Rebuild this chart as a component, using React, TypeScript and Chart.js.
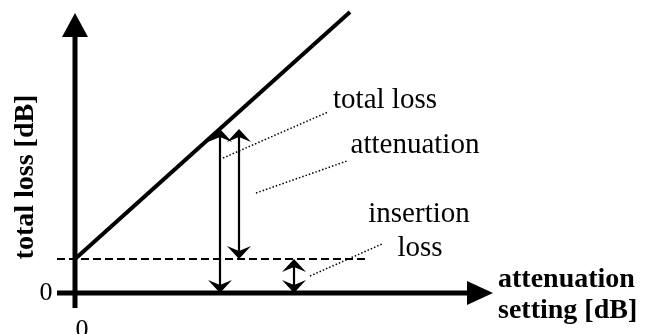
import React, { useEffect, useRef } from "react";
import { Chart, registerables } from "chart.js";
Chart.register(...registerables);

// Data units: attenuation setting (x) and total loss (y), both in dB (schematic)
const X_RANGE = [-7.5, 58.5];
const Y_RANGE = [-4.1, 29.3];

const insertionLoss = 3.4;
const totalLossLine = [
  { x: 0, y: 3.4 },
  { x: 27.5, y: 28.1 },
];
const insertionLossLine = [
  { x: -1.8, y: 3.4 },
  { x: 29.2, y: 3.4 },
];
const xAxisLine = [
  { x: -1.8, y: 0 },
  { x: 39.2, y: 0 },
];
const yAxisLine = [
  { x: 0, y: -1.5 },
  { x: 0, y: 25.6 },
];
const xAxisTip = { x: 41.8, y: 0 };
const yAxisTip = { x: 0, y: 28.0 };

// double arrows: x position, bottom value, top value
const arrowTotalLoss = { x: 14.5, from: 0, to: 16.4 };
const arrowAttenuation = { x: 16.4, from: insertionLoss, to: 16.4 };
const arrowInsertion = { x: 21.9, from: 0, to: insertionLoss };

// dotted leader lines
const leaderTotalLoss = [
  { x: 14.8, y: 13.5 },
  { x: 25.3, y: 18.1 },
];
const leaderAttenuation = [
  { x: 18.1, y: 10.0 },
  { x: 27.2, y: 13.2 },
];
const leaderInsertion = [
  { x: 23.5, y: 1.7 },
  { x: 30.7, y: 4.9 },
];

// labels: text, anchor point
const labelTexts = ["total loss", "attenuation", "insertion", "loss"];
const labelPoints = [
  { x: 31.0, y: 18.5 },
  { x: 34.0, y: 14.0 },
  { x: 34.4, y: 7.1 },
  { x: 34.5, y: 3.7 },
];
const xTitleLines = ["attenuation", "setting [dB]"];
const xTitlePoints = [
  { x: 42.3, y: 0.6 },
  { x: 42.3, y: -2.5 },
];
const yTitle = "total loss [dB]";
const yTitlePoint = { x: -4.9, y: 11.6 };
const tickLabel = "0";
const yTickPoint = { x: -2.9, y: 0 };
const xTickPoint = { x: 0.7, y: -2.4 };

const SERIF = '"Liberation Serif", "Times New Roman", serif';

function lineDs(data: { x: number; y: number }[], width: number, dash: number[] = []) {
  return {
    data,
    showLine: true,
    borderColor: "#000",
    borderWidth: width,
    borderDash: dash,
    pointRadius: 0,
    pointHoverRadius: 0,
    fill: false,
    borderCapStyle: "butt",
    clip: false,
  } as any;
}

const decorPlugin = {
  id: "decor",
  afterDatasetsDraw(chart: any) {
    const ctx: CanvasRenderingContext2D = chart.ctx;
    const xs = chart.scales.x;
    const ys = chart.scales.y;
    const px = (v: number) => xs.getPixelForValue(v);
    const py = (v: number) => ys.getPixelForValue(v);
    ctx.save();
    ctx.fillStyle = "#000";

    // axis arrowheads (filled triangles)
    const yt = { x: px(yAxisTip.x), y: py(yAxisTip.y) };
    const yb = py(yAxisLine[1].y);
    ctx.beginPath();
    ctx.moveTo(yt.x, yt.y);
    ctx.lineTo(yt.x - 13, yb);
    ctx.lineTo(yt.x + 13, yb);
    ctx.closePath();
    ctx.fill();

    const xt = { x: px(xAxisTip.x), y: py(xAxisTip.y) };
    const xb = px(xAxisLine[1].x);
    ctx.beginPath();
    ctx.moveTo(xt.x, xt.y);
    ctx.lineTo(xb, xt.y - 12);
    ctx.lineTo(xb, xt.y + 12);
    ctx.closePath();
    ctx.fill();

    // barbed arrowheads for double arrows
    const head = (x: number, y: number, dir: number) => {
      // dir = -1 pointing up, +1 pointing down
      const L = 13, W = 12, N = 5;
      ctx.beginPath();
      ctx.moveTo(x, y);
      ctx.lineTo(x - W, y - dir * L);
      ctx.lineTo(x, y - dir * (L - N));
      ctx.lineTo(x + W, y - dir * L);
      ctx.closePath();
      ctx.fill();
    };
    [arrowTotalLoss, arrowAttenuation, arrowInsertion].forEach((a) => {
      const x = px(a.x);
      const top = py(a.to);
      const bot = py(a.from);
      ctx.strokeStyle = "#000";
      ctx.lineWidth = 2.2;
      ctx.beginPath();
      ctx.moveTo(x, top + 6);
      ctx.lineTo(x, bot - 6);
      ctx.stroke();
      head(x, top, -1);
      head(x, bot, 1);
    });

    // labels
    ctx.font = `29px ${SERIF}`;
    ctx.textAlign = "center";
    ctx.textBaseline = "alphabetic";
    labelTexts.forEach((t, i) => {
      ctx.fillText(t, px(labelPoints[i].x), py(labelPoints[i].y));
    });

    ctx.font = `bold 28px ${SERIF}`;
    ctx.textAlign = "left";
    xTitleLines.forEach((t, i) => {
      ctx.fillText(t, px(xTitlePoints[i].x), py(xTitlePoints[i].y));
    });

    ctx.save();
    ctx.translate(px(yTitlePoint.x), py(yTitlePoint.y));
    ctx.rotate(-Math.PI / 2);
    ctx.textAlign = "center";
    ctx.textBaseline = "middle";
    ctx.fillText(yTitle, 0, 0);
    ctx.restore();

    ctx.font = `26px ${SERIF}`;
    ctx.textAlign = "center";
    ctx.textBaseline = "middle";
    ctx.fillText(tickLabel, px(yTickPoint.x), py(yTickPoint.y));
    ctx.textBaseline = "top";
    ctx.fillText(tickLabel, px(xTickPoint.x), py(xTickPoint.y));

    ctx.restore();
  },
};

export default function App() {
  const ref = useRef<HTMLCanvasElement | null>(null);
  useEffect(() => {
    if (!ref.current) return;
    const chart = new Chart(ref.current, {
      type: "scatter",
      data: {
        datasets: [
          lineDs(yAxisLine, 5),
          lineDs(xAxisLine, 5),
          lineDs(insertionLossLine, 2, [8, 4]),
          lineDs(totalLossLine, 4),
          lineDs(leaderTotalLoss, 1.5, [1.5, 2]),
          lineDs(leaderAttenuation, 1.5, [1.5, 2]),
          lineDs(leaderInsertion, 1.5, [1.5, 2]),
        ],
      },
      options: {
        animation: false,
        responsive: false,
        devicePixelRatio: 1,
        layout: { padding: 0 },
        plugins: { legend: { display: false }, tooltip: { enabled: false } },
        events: [],
        scales: {
          x: { type: "linear", display: false, min: X_RANGE[0], max: X_RANGE[1] },
          y: { type: "linear", display: false, min: Y_RANGE[0], max: Y_RANGE[1] },
        },
      },
      plugins: [decorPlugin],
    });
    return () => chart.destroy();
  }, []);
  return (
    <div style={{ position: "absolute", left: 0, top: 0, width: 660, height: 334, background: "#fff" }}>
      <canvas ref={ref} width={660} height={334} style={{ display: "block" }} />
    </div>
  );
}
